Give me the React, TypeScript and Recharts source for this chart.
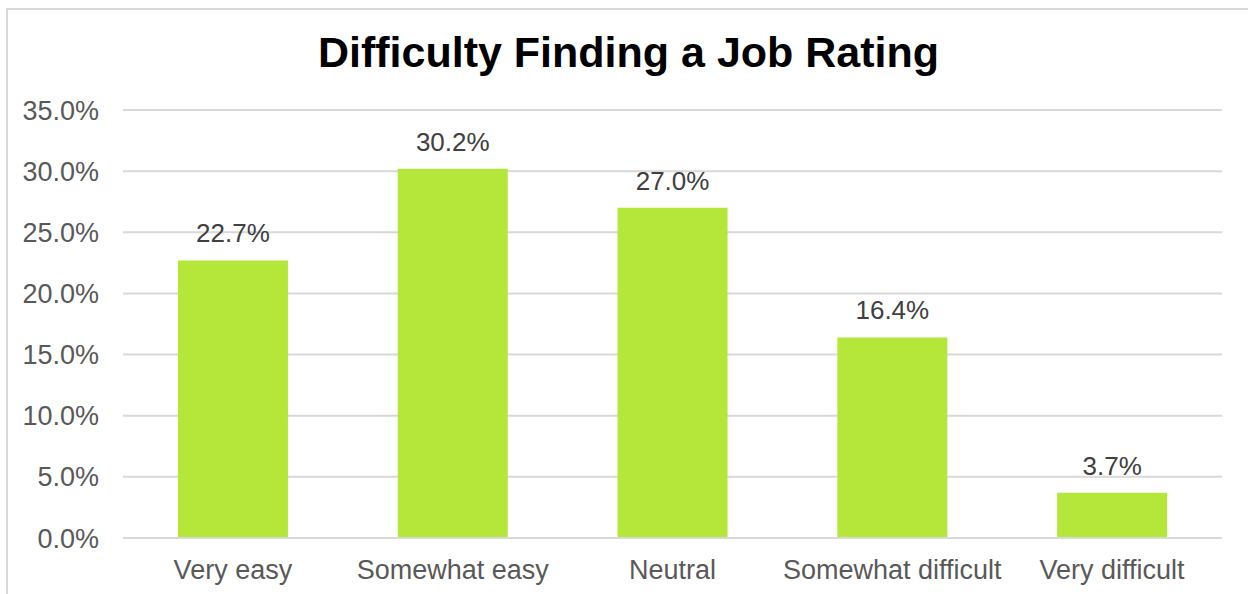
import { BarChart, Bar, XAxis, YAxis, CartesianGrid, LabelList } from "recharts";

const categories = ["Very easy", "Somewhat easy", "Neutral", "Somewhat difficult", "Very difficult"];
const shares = [22.7, 30.2, 27.0, 16.4, 3.7];
const yTicks = [0, 5, 10, 15, 20, 25, 30, 35];

const FONT = "'Liberation Sans', Arial, sans-serif";
const BAR_COLOR = "#B5E63A";
const GRID = "#D9D9D9";

const data = categories.map((name, i) => ({ name, value: shares[i] }));

export default function App() {
  return (
    <div style={{ position: "absolute", left: 0, top: 0, width: 1248, height: 594, background: "#fff", overflow: "hidden", fontFamily: FONT }}>
      {/* chart frame, only left and top edges are visible */}
      <div style={{ position: "absolute", left: 6, top: 8, width: 1400, height: 800, borderLeft: `2px solid ${GRID}`, borderTop: `2px solid ${GRID}` }} />
      <div style={{ position: "absolute", left: 0, top: 31, width: 1257, textAlign: "center", fontSize: 43, fontWeight: "bold", color: "#000", lineHeight: "43px" }}>
        Difficulty Finding a Job Rating
      </div>
      <div style={{ position: "absolute", left: 0, top: 0 }}>
        <BarChart width={1248} height={594} data={data} margin={{ top: 110, right: 26, left: 0, bottom: 0 }} barCategoryGap="25%">
          <CartesianGrid vertical={false} stroke={GRID} strokeWidth={2} />
          <XAxis dataKey="name" height={56} axisLine={{ stroke: GRID, strokeWidth: 2 }} tickLine={false} tickSize={0} tickMargin={22}
            tick={{ fontSize: 27, fill: "#595959", fontFamily: FONT }} interval={0} />
          <YAxis width={123} domain={[0, 35]} ticks={yTicks} axisLine={false} tickLine={false} tickSize={0} tickMargin={24}
            tickFormatter={(v: number) => `${v.toFixed(1)}%`} tick={{ fontSize: 27, fill: "#595959", fontFamily: FONT }} />
          <Bar dataKey="value" fill={BAR_COLOR} isAnimationActive={false}>
            <LabelList dataKey="value" position="top" offset={18} formatter={(v: any) => `${Number(v).toFixed(1)}%`}
              style={{ fontSize: 26, fill: "#404040", fontFamily: FONT }} />
          </Bar>
        </BarChart>
      </div>
    </div>
  );
}
